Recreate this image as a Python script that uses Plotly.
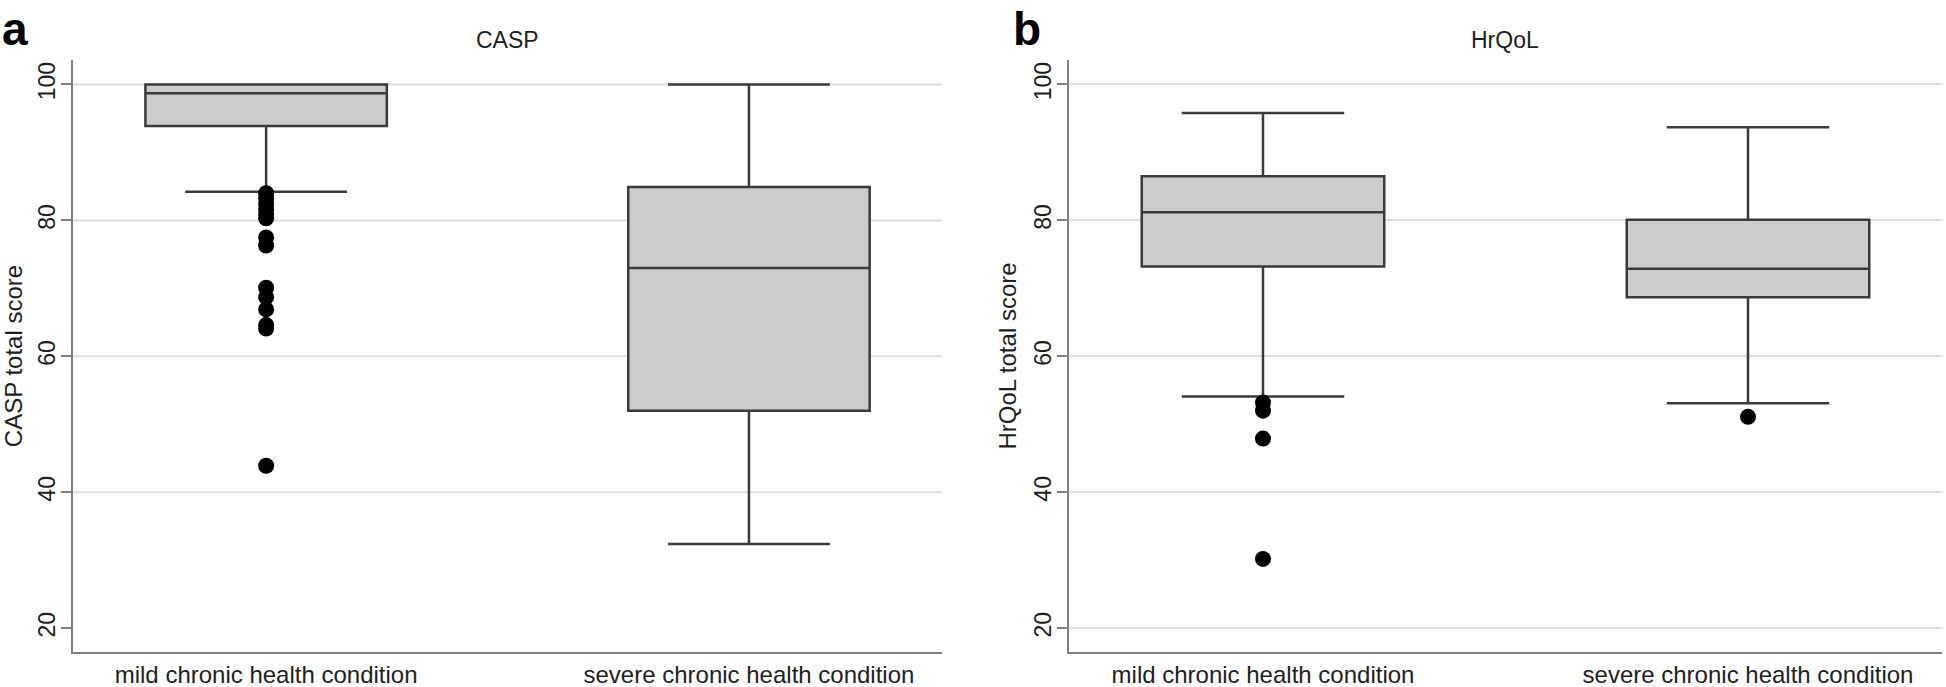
import plotly.graph_objects as go

# ---------------- data ----------------
categories = ["mild chronic health condition", "severe chronic health condition"]

casp_q1 = [93.9, 52.0]
casp_median = [98.7, 73.0]
casp_q3 = [100.0, 84.9]
casp_lowerfence = [84.2, 32.4]
casp_upperfence = [100.0, 100.0]
casp_mild_outliers = [84.0, 83.2, 82.4, 81.6, 80.9, 80.3, 77.5, 76.3,
                      70.1, 68.7, 66.9, 64.6, 64.1, 43.9]

hrqol_q1 = [73.2, 68.7]
hrqol_median = [81.2, 72.9]
hrqol_q3 = [86.5, 80.1]
hrqol_lowerfence = [54.1, 53.1]
hrqol_upperfence = [95.8, 93.7]
hrqol_mild_outliers = [53.2, 52.0, 47.9, 30.2]
hrqol_severe_outliers = [51.1]

y_ticks = [20, 40, 60, 80, 100]
casp_grid = [40, 60, 80, 100]

# ---------------- styling ----------------
FONT = "Liberation Sans, Arial, Helvetica, sans-serif"
BOX_FILL = "#cccccc"
BOX_LINE = "#3a3a3a"
AXIS_COL = "#808080"
GRID_COL = "#dedede"
TEXT_COL = "#1e1e1e"

fig = go.Figure()

def add_box(x_axis, y_axis, q1, med, q3, lf, uf):
    fig.add_trace(go.Box(
        x=categories, q1=q1, median=med, q3=q3,
        lowerfence=lf, upperfence=uf,
        boxpoints=False, width=0.5, whiskerwidth=0.67,
        fillcolor=BOX_FILL, line=dict(color=BOX_LINE, width=2.5),
        xaxis=x_axis, yaxis=y_axis, showlegend=False, hoverinfo="skip",
    ))

def add_outliers(x_axis, y_axis, cat, vals):
    fig.add_trace(go.Scatter(
        x=[cat] * len(vals), y=vals, mode="markers",
        marker=dict(color="black", size=16, line=dict(width=0)),
        xaxis=x_axis, yaxis=y_axis, showlegend=False, hoverinfo="skip",
    ))

add_box("x", "y", casp_q1, casp_median, casp_q3, casp_lowerfence, casp_upperfence)
add_outliers("x", "y", categories[0], casp_mild_outliers)

add_box("x2", "y2", hrqol_q1, hrqol_median, hrqol_q3, hrqol_lowerfence, hrqol_upperfence)
add_outliers("x2", "y2", categories[0], hrqol_mild_outliers)
add_outliers("x2", "y2", categories[1], hrqol_severe_outliers)

# left panel gridlines (none at 20 in the original)
for v in casp_grid:
    fig.add_shape(type="line", xref="x domain", yref="y", x0=0, x1=1, y0=v, y1=v,
                  line=dict(color=GRID_COL, width=2), layer="below")

common_x = dict(type="category", range=[-0.4, 1.4], showline=True, linecolor=AXIS_COL,
                linewidth=2, ticks="", showgrid=False, zeroline=False,
                tickfont=dict(size=24, color=TEXT_COL, family=FONT),
                ticklabelstandoff=0, automargin=False)
common_y = dict(range=[16.5, 103.6], tickvals=y_ticks, showline=True, linecolor=AXIS_COL,
                linewidth=2, ticks="outside", ticklen=10, tickwidth=2, tickcolor=AXIS_COL,
                tickangle=-90, tickfont=dict(size=23, color=TEXT_COL, family=FONT),
                ticklabelstandoff=-3, zeroline=False, automargin=False)

fig.update_layout(
    width=1946, height=687,
    margin=dict(l=73, r=4, t=60, b=35),
    paper_bgcolor="white", plot_bgcolor="white",
    font=dict(family=FONT, color=TEXT_COL),
    xaxis=dict(domain=[0, 0.465], **common_x),
    xaxis2=dict(domain=[0.5329, 1.0], anchor="y2", **common_x),
    yaxis=dict(anchor="x", showgrid=False,
               title=dict(text="CASP total score", font=dict(size=24, family=FONT), standoff=6),
               **common_y),
    yaxis2=dict(anchor="x2", showgrid=True, gridcolor=GRID_COL, gridwidth=2,
                title=dict(text="HrQoL total score", font=dict(size=24, family=FONT), standoff=6),
                **common_y),
    annotations=[
        dict(text="CASP", xref="x domain", yref="paper", x=0.5, y=1.034, showarrow=False,
             xanchor="center", yanchor="middle", font=dict(size=23, family=FONT, color=TEXT_COL)),
        dict(text="HrQoL", xref="x2 domain", yref="paper", x=0.5, y=1.034, showarrow=False,
             xanchor="center", yanchor="middle", font=dict(size=23, family=FONT, color=TEXT_COL)),
        dict(text="<b>a</b>", xref="paper", yref="paper", x=-0.039, y=1.1, showarrow=False,
             xanchor="left", yanchor="top", font=dict(size=46, family=FONT, color="black")),
        dict(text="<b>b</b>", xref="paper", yref="paper", x=0.502, y=1.1, showarrow=False,
             xanchor="left", yanchor="top", font=dict(size=46, family=FONT, color="black")),
    ],
)

fig.write_html(
    "out.html",
    config={"displayModeBar": False},
    post_script="document.body.style.margin='0';document.body.style.overflow='hidden';",
)
